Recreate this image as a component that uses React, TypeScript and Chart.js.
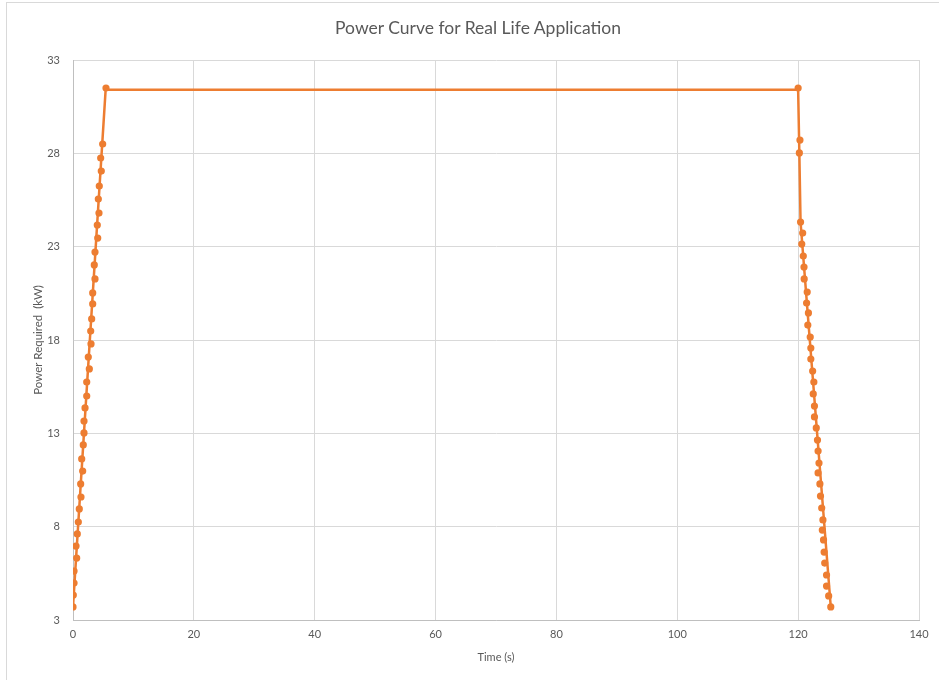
import React, { useEffect, useRef } from "react";
import { Chart, registerables } from "chart.js";

Chart.register(...registerables);

// Rising ramp markers (time s, power kW)
const upTime = [0.0, 0.05, 0.17, 0.17, 0.61, 0.5, 0.71, 0.88, 1.04, 1.32, 1.27, 1.6, 1.44, 1.7, 1.82, 1.82, 1.99, 2.27, 2.27, 2.7, 2.53, 2.98, 2.93, 3.09, 3.26, 3.26, 3.64, 3.52, 3.64, 4.09, 4.02, 4.3, 4.19, 4.35, 4.68, 4.58, 4.91, 5.46];
const upPower = [3.7, 4.34, 4.98, 5.62, 6.32, 6.96, 7.61, 8.25, 8.95, 9.59, 10.29, 10.98, 11.63, 12.38, 13.02, 13.66, 14.36, 15.0, 15.75, 16.45, 17.09, 17.79, 18.48, 19.13, 19.93, 20.52, 21.27, 22.02, 22.71, 23.46, 24.16, 24.8, 25.55, 26.25, 27.05, 27.75, 28.5, 31.5];

// Falling ramp markers
const downTime = [120.0, 120.3, 120.2, 120.4, 120.75, 120.6, 120.85, 120.97, 121.0, 121.5, 121.4, 121.7, 121.6, 122.0, 122.1, 122.1, 122.4, 122.6, 122.5, 122.7, 122.7, 123.0, 123.2, 123.3, 123.45, 123.3, 123.6, 123.7, 123.9, 124.1, 124.0, 124.2, 124.3, 124.4, 124.7, 124.7, 125.05, 125.4];
const downPower = [31.5, 28.71, 28.02, 24.32, 23.73, 23.14, 22.5, 21.91, 21.27, 20.57, 19.98, 19.45, 18.8, 18.16, 17.57, 16.98, 16.34, 15.75, 15.11, 14.46, 13.88, 13.29, 12.64, 12.05, 11.41, 10.88, 10.29, 9.64, 9.0, 8.36, 7.82, 7.29, 6.64, 6.05, 5.41, 4.82, 4.29, 3.7];

// Connecting curve vertices
const curveTime = [0, 5.4, 120, 120.2, 120.4, 125.4];
const curvePower = [3.7, 31.4, 31.4, 28.0, 24.3, 3.7];

const title = "Power Curve for Real Life Application";
const xTitle = "Time (s)";
const yTitle = "Power Required  (kW)";

const ORANGE = "#ED7D31";
const TEXT = "#595959";
const GRID = "#d9d9d9";
const FONT = "Lato";

export default function App() {
  const ref = useRef<HTMLCanvasElement>(null);

  useEffect(() => {
    if (!ref.current) return;
    const markers = [
      ...upTime.map((t, i) => ({ x: t, y: upPower[i] })),
      ...downTime.map((t, i) => ({ x: t, y: downPower[i] })),
    ];
    const curve = curveTime.map((t, i) => ({ x: t, y: curvePower[i] }));
    const chart = new Chart(ref.current, {
      type: "scatter",
      data: {
        datasets: [
          {
            label: "curve",
            data: curve,
            showLine: true,
            borderColor: ORANGE,
            borderWidth: 2.5,
            pointRadius: 0,
            fill: false,
          },
          {
            label: "points",
            data: markers,
            showLine: false,
            pointRadius: 3.6,
            pointBackgroundColor: ORANGE,
            pointBorderColor: ORANGE,
            pointBorderWidth: 0,
          },
        ],
      },
      options: {
        animation: false,
        responsive: false,
        layout: { padding: { left: 6, right: 20, top: 60, bottom: 0 } },
        plugins: {
          legend: { display: false },
          tooltip: { enabled: false },
          title: { display: false },
        },
        scales: {
          x: {
            type: "linear",
            min: 0,
            max: 140,
            ticks: {
              stepSize: 20,
              color: TEXT,
              font: { family: FONT, size: 11 },
              padding: 8,
            },
            grid: { color: GRID, drawTicks: false },
            border: { color: "#bfbfbf" },
            title: {
              display: true,
              text: xTitle,
              color: TEXT,
              font: { family: FONT, size: 11 },
              padding: { top: 0, bottom: 16.4 },
            },
            afterFit: (s: any) => {
              s.height = 60;
            },
          },
          y: {
            type: "linear",
            min: 3,
            max: 33,
            ticks: {
              stepSize: 5,
              color: TEXT,
              font: { family: FONT, size: 11 },
              padding: 13,
            },
            grid: { color: GRID, drawTicks: false },
            border: { color: "#bfbfbf" },
            title: {
              display: true,
              text: yTitle,
              color: TEXT,
              font: { family: FONT, size: 11.5 },
              padding: { top: 25.2, bottom: 0 },
            },
            afterFit: (s: any) => {
              s.width = 67;
            },
          },
        },
      },
    });
    return () => chart.destroy();
  }, []);

  return (
    <div style={{ position: "absolute", left: 0, top: 0, width: 939, height: 680, overflow: "hidden", background: "#fff" }}>
      <div style={{ position: "absolute", left: 6, top: 2, width: 960, height: 700, border: "1px solid #d9d9d9" }} />
      <canvas ref={ref} width={939} height={680} style={{ position: "absolute", left: 0, top: 0, width: 939, height: 680 }} />
      <div
        style={{
          position: "absolute",
          left: 0,
          top: 17,
          width: 956,
          textAlign: "center",
          fontFamily: FONT,
          fontSize: 17.5,
          lineHeight: "21px",
          color: TEXT,
          whiteSpace: "nowrap",
        }}
      >
        {title}
      </div>
    </div>
  );
}
